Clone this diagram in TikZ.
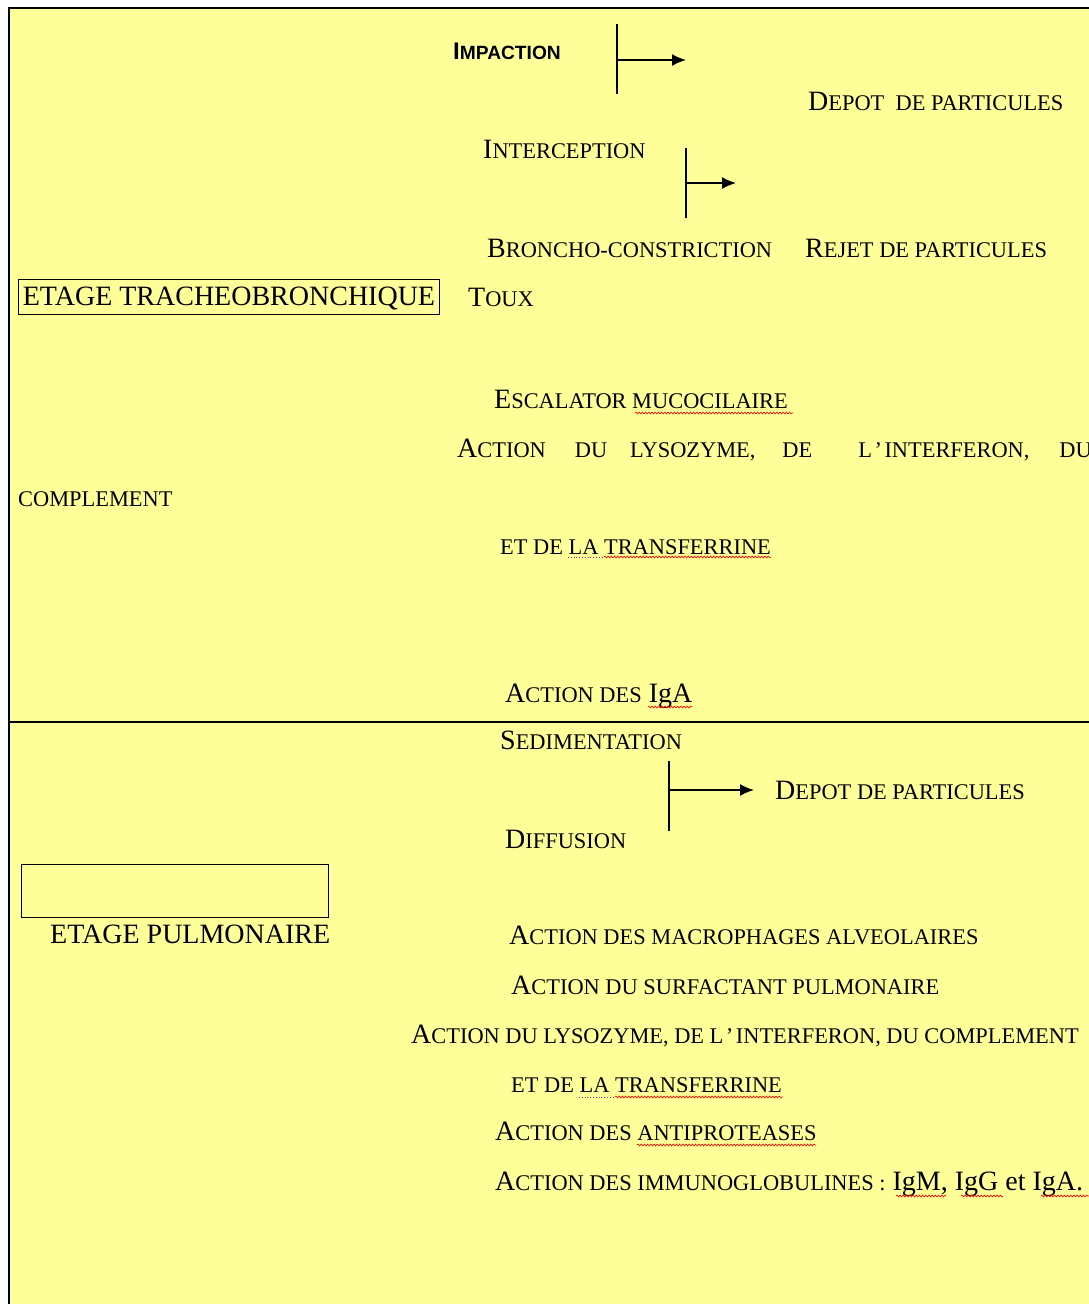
\documentclass[tikz,border=0pt]{standalone}
\usepackage{fontspec}
\setmainfont{Liberation Serif}
\newfontfamily\sansfont{Liberation Sans}
\usetikzlibrary{arrows.meta,decorations.pathmorphing}
\definecolor{paper}{RGB}{255,255,153}
% first letter full size, the rest as small capitals
\newcommand{\Sc}[2]{#1{\fontsize{22.4}{26}\selectfont #2}}
\tikzset{
    txt/.style={anchor=base west, inner sep=0pt, font=\fontsize{28}{32}\selectfont},
    rule/.style={black, line width=1.8pt},
    bar/.style={black, line width=1.4pt},
    arr/.style={black, line width=1.6pt, -{Latex[length=14pt,width=12pt]}},
    spell/.style={red, line width=0.6pt, decorate, decoration={snake, amplitude=1pt, segment length=3.2pt}},
    dots/.style={magenta!70!blue, line width=0.8pt, dotted}
}

\begin{document}
\begin{tikzpicture}[x=1pt,y=-1pt]
    \useasboundingbox (0,0) rectangle (1089,1304);
    \fill[paper] (9,8) rectangle (1095,1310);
    \draw[rule] (9,1310) -- (9,8) -- (1095,8);
    \draw[rule] (9,722) -- (1095,722);

    % etage tracheobronchique
    \node[txt, font=\sansfont\bfseries\fontsize{24}{28}\selectfont] (impaction) at (453,59) {I{\fontsize{19.2}{22}\selectfont MPACTION}};
    \node[txt] (depot1) at (808,110) {\Sc{D}{EPOT\ \ DE PARTICULES}};
    \node[txt] (intercep) at (483,158) {\Sc{I}{NTERCEPTION}};
    \node[txt] (broncho) at (487,257) {\Sc{B}{RONCHO-CONSTRICTION}};
    \node[txt] (rejet) at (805,257) {\Sc{R}{EJET DE PARTICULES}};
    \node[txt, draw, line width=1pt, inner xsep=0pt, minimum width=421pt, text height=26pt, text depth=9pt] (tracheo) at (18,305) {ETAGE TRACHEOBRONCHIQUE};
    \node[txt] (toux) at (468,306) {\Sc{T}{OUX}};
    \node[txt] (escal) at (494,408) {\Sc{E}{SCALATOR MUCOCILAIRE}};
    \node[txt] (lyso1) at (457,457) {\Sc{A}{CTION\hspace{29pt}DU\hspace{23pt}LYSOZYME,\hspace{27pt}DE\hspace{46pt}L\kern2.5pt’\kern2.5pt INTERFERON,\hspace{30pt}DU}};
    \node[txt] (compl1) at (18,506) {\Sc{}{COMPLEMENT}};
    \node[txt] (transf1) at (500,554) {\Sc{}{ET DE LA TRANSFERRINE}};
    \node[txt] (iga1) at (505,702) {\Sc{A}{CTION DES} IgA};

    \coordinate (b1top) at (617,24);
    \coordinate (b1bot) at (617,94);
    \coordinate (b1mid) at (617,60);
    \coordinate (b1tip) at (686,60);
    \draw[bar] (b1top) -- (b1bot);
    \draw[arr] (b1mid) -- (b1tip);

    \coordinate (b2top) at (686,148);
    \coordinate (b2bot) at (686,218);
    \coordinate (b2mid) at (686,183);
    \coordinate (b2tip) at (736,183);
    \draw[bar] (b2top) -- (b2bot);
    \draw[arr] (b2mid) -- (b2tip);

    % etage pulmonaire
    \node[txt] (sedim) at (500,749) {\Sc{S}{EDIMENTATION}};
    \node[txt] (depot2) at (775,799) {\Sc{D}{EPOT DE PARTICULES}};
    \node[txt] (diffus) at (505,848) {\Sc{D}{IFFUSION}};
    \node[draw, line width=1pt, minimum width=307pt, minimum height=53pt, anchor=north west] (pulmbox) at (21,864) {};
    \node[txt] (pulmo) at (50,943) {ETAGE PULMONAIRE};
    \node[txt] (macro) at (509,944) {\Sc{A}{CTION DES MACROPHAGES ALVEOLAIRES}};
    \node[txt] (surfact) at (511,994) {\Sc{A}{CTION DU SURFACTANT PULMONAIRE}};
    \node[txt] (lyso2) at (411,1043) {\Sc{A}{CTION DU LYSOZYME, DE L\kern2.5pt’\kern2.5pt INTERFERON, DU COMPLEMENT}};
    \node[txt] (transf2) at (511,1092) {\Sc{}{ET DE LA TRANSFERRINE}};
    \node[txt] (antipro) at (495,1140) {\Sc{A}{CTION DES ANTIPROTEASES}};
    \node[txt] (immuno) at (495,1190) {\Sc{A}{CTION DES IMMUNOGLOBULINES :} IgM, IgG et IgA.};

    \coordinate (b3top) at (669,761);
    \coordinate (b3bot) at (669,831);
    \coordinate (b3mid) at (669,790);
    \coordinate (b3tip) at (754,790);
    \draw[bar] (b3top) -- (b3bot);
    \draw[arr] (b3mid) -- (b3tip);

    % spelling marks
    \draw[spell] (635,413) -- (793,413);
    \draw[dots] (568,557) -- (604,557);
    \draw[spell] (604,557) -- (771,557);
    \draw[spell] (648,707) -- (692,707);
    \draw[dots] (579,1097) -- (615,1097);
    \draw[spell] (615,1097) -- (783,1097);
    \draw[spell] (637,1145) -- (816,1145);
    \draw[spell] (896,1196) -- (946,1196);
    \draw[spell] (961,1196) -- (1003,1196);
    \draw[spell] (1041,1196) -- (1089,1196);
\end{tikzpicture}
\end{document}
